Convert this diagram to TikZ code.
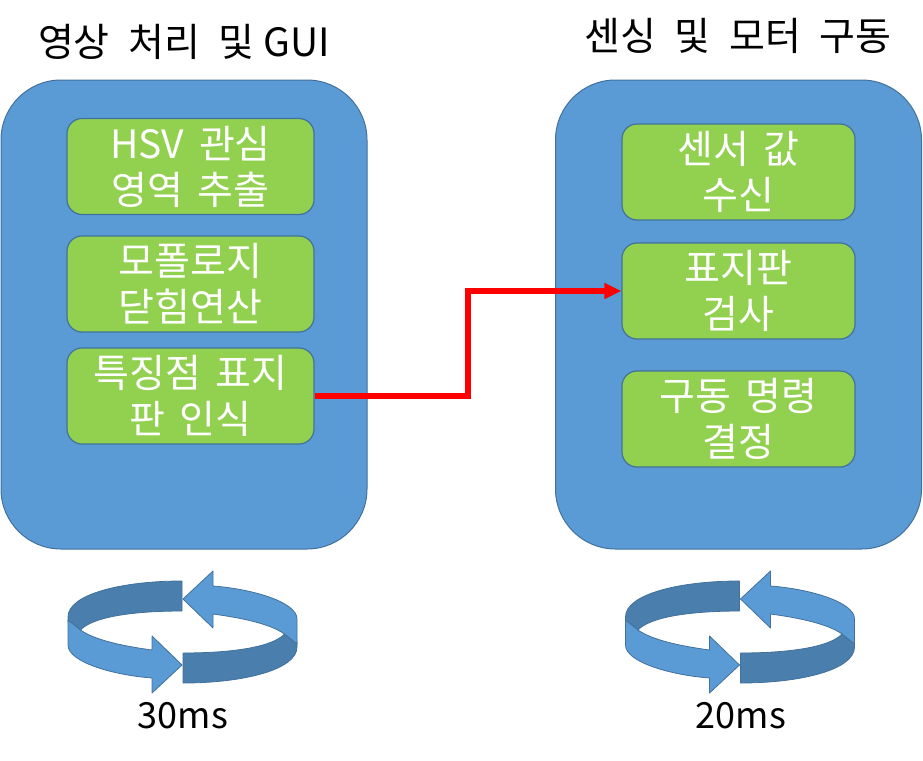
\documentclass[tikz,border=0pt]{standalone}
\usepackage{fontspec}
\setmainfont{Noto Sans CJK KR}
\usetikzlibrary{arrows.meta}
\definecolor{bluefill}{HTML}{5B9BD5}
\definecolor{blueline}{HTML}{41719C}
\definecolor{greenfill}{HTML}{92D050}
\definecolor{darkband}{HTML}{4A7EAD}
\newcommand{\gap}{\hspace{.38em}}
\newcommand{\wgap}{\hspace{.48em}}
\tikzset{
  x=1pt,y=-1pt,
  panel/.style={draw=blueline,line width=1pt,fill=bluefill,rounded corners=60pt,minimum width=366pt,minimum height=469pt,inner sep=0pt},
  task/.style={draw=blueline,line width=1.2pt,fill=greenfill,rounded corners=15pt,minimum height=96pt,inner sep=0pt,text=white,align=center,font=\fontsize{39}{46}\selectfont},
  tasklft/.style={task,minimum width=247pt},
  taskrgt/.style={task,minimum width=233pt},
  heading/.style={font=\fontsize{39}{44}\selectfont,text=black,inner sep=0pt},
  period/.style={font=\fontsize{36}{40}\selectfont,text=black,inner sep=0pt},
  link/.style={draw=red,line width=5.5pt,-{Triangle[length=17pt,width=15pt]}},
  band/.style={fill=darkband,draw=blueline,line width=0.8pt,line join=round},
  arrowbody/.style={fill=bluefill,draw=blueline,line width=0.8pt,line join=round},
  pics/cycle/.style={code={
    \foreach \r in {0,180}{
      \begin{scope}[rotate=\r]
      \path[band] (-0.5,-51) .. controls (-60,-51) and (-114.5,-38) .. (-114.5,-15)
        -- (-114.5,-10) -- (-102,-2) .. controls (-90,-15) and (-50,-21) .. (-0.5,-21) -- cycle;
      \path[arrowbody] (-114.5,-12) -- (-114.5,13) .. controls (-114.5,30) and (-70,43) .. (-30.5,46)
        -- (-30.5,61) -- (-0.5,33) -- (-30.5,4) -- (-30.5,18)
        .. controls (-60,14) and (-88,8) .. (-102,-2) -- cycle;
      \end{scope}
    }
  }}
}
\begin{document}
\begin{tikzpicture}
\useasboundingbox (0,0) rectangle (923,760);
\node[panel] (pl) at (184,314.5) {};
\node[panel] (pr) at (738.5,314.5) {};
\node[heading] (tl) at (184,42) {영상\wgap 처리\wgap 및 GUI};
\node[heading] (tr) at (738,36) {센싱\wgap 및\wgap 모터\wgap 구동};
\node[tasklft] (a1) at (190.5,166.5) {HSV\gap 관심\\영역\gap 추출};
\node[tasklft] (a2) at (190.5,284) {모폴로지\\닫힘연산};
\node[tasklft] (a3) at (190.5,396) {특징점\gap 표지\\판\gap 인식};
\node[taskrgt] (b1) at (738.5,172) {센서\gap 값\\수신};
\node[taskrgt] (b2) at (738.5,291) {표지판\\검사};
\node[taskrgt] (b3) at (738.5,419) {구동\gap 명령\\결정};
\coordinate (bend) at (468,340);
\draw[link] (a3.east) -| (bend) |- (b2.west);
\pic at (182.5,632) {cycle};
\pic at (740,632) {cycle};
\node[period] (cl) at (183,716) {30ms};
\node[period] (cr) at (741,716) {20ms};
\end{tikzpicture}
\end{document}
